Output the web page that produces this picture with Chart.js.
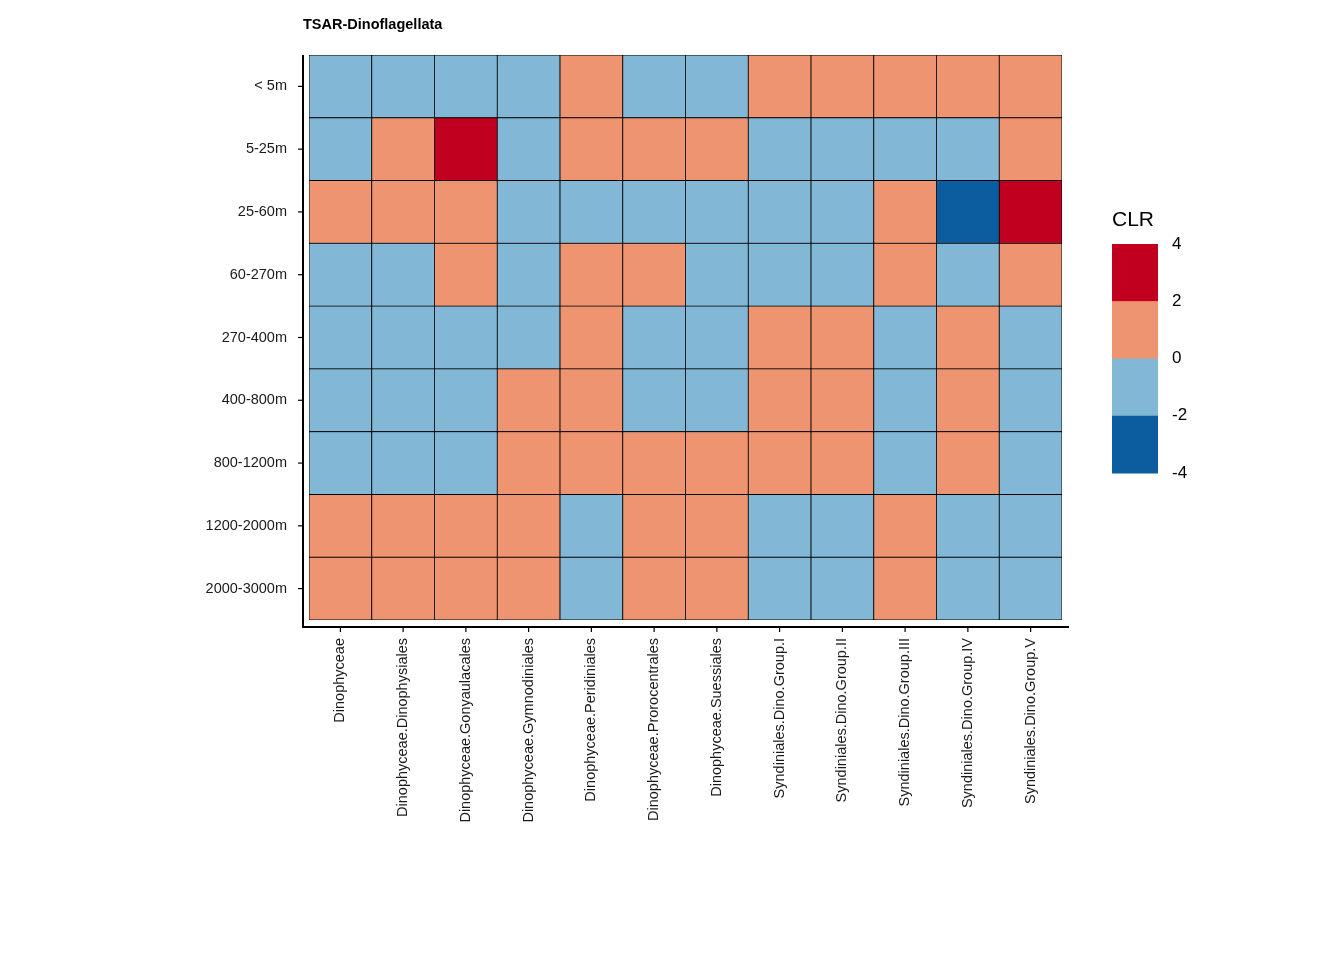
<!DOCTYPE html>
<html><head><meta charset="utf-8">
<script src="https://cdn.jsdelivr.net/npm/chart.js@4"></script>
<style>body{margin:0;background:#fff}</style>
</head><body><canvas id="c" width="1344" height="960"></canvas>
<script>
const taxa = ['Dinophyceae','Dinophyceae.Dinophysiales','Dinophyceae.Gonyaulacales','Dinophyceae.Gymnodiniales',
  'Dinophyceae.Peridiniales','Dinophyceae.Prorocentrales','Dinophyceae.Suessiales','Syndiniales.Dino.Group.I',
  'Syndiniales.Dino.Group.II','Syndiniales.Dino.Group.III','Syndiniales.Dino.Group.IV','Syndiniales.Dino.Group.V'];
// depth rows, top to bottom
const depths = ['< 5m','5-25m','25-60m','60-270m','270-400m','400-800m','800-1200m','1200-2000m','2000-3000m'];
// estimated CLR per cell (rows follow depths)
const clr = [
  [-1,-1,-1,-1, 1,-1,-1, 1, 1, 1, 1, 1],
  [-1, 1, 3,-1, 1, 1, 1,-1,-1,-1,-1, 1],
  [ 1, 1, 1,-1,-1,-1,-1,-1,-1, 1,-3, 3],
  [-1,-1, 1,-1, 1, 1,-1,-1,-1, 1,-1, 1],
  [-1,-1,-1,-1, 1,-1,-1, 1, 1,-1, 1,-1],
  [-1,-1,-1, 1, 1,-1,-1, 1, 1,-1, 1,-1],
  [-1,-1,-1, 1, 1, 1, 1, 1, 1,-1, 1,-1],
  [ 1, 1, 1, 1,-1, 1, 1,-1,-1, 1,-1,-1],
  [ 1, 1, 1, 1,-1, 1, 1,-1,-1, 1,-1,-1]
];
const legendBreaks = [4, 2, 0, -2, -4];
const binColors = ['#C0001E', '#EF9470', '#82B8D6', '#0C5DA0']; // 4..2, 2..0, 0..-2, -2..-4

function colorFor(v) {
  if (v >= 2) return binColors[0];
  if (v >= 0) return binColors[1];
  if (v >= -2) return binColors[2];
  return binColors[3];
}

const font = "'Liberation Sans', Arial, sans-serif";
const n = depths.length;
// stacked bars: dataset 0 is the bottom row
const datasets = depths.slice().reverse().map((d, i) => {
  const row = clr[n - 1 - i];
  return {
    label: d, data: taxa.map(() => 1),
    backgroundColor: row.map(colorFor),
    borderColor: '#000', borderWidth: 0.8, borderSkipped: false,
    categoryPercentage: 1, barPercentage: 1
  };
});

const decor = {
  id: 'decor',
  afterDraw(chart) {
    const {ctx, chartArea: a} = chart;
    const xs = chart.scales.x, ys = chart.scales.y;
    ctx.save();
    ctx.strokeStyle = '#000'; ctx.lineWidth = 2;
    const ax = a.left - 6, ay = a.bottom + 7;
    ctx.beginPath(); ctx.moveTo(ax, a.top); ctx.lineTo(ax, ay); ctx.lineTo(a.right + 7, ay); ctx.stroke();
    ctx.lineWidth = 1.2;
    depths.forEach((d, i) => { const y = ys.getPixelForValue(n - 1 - i + 0.5);
      ctx.beginPath(); ctx.moveTo(ax - 5, y); ctx.lineTo(ax, y); ctx.stroke(); });
    taxa.forEach((t, i) => { const x = xs.getPixelForValue(i);
      ctx.beginPath(); ctx.moveTo(x, ay); ctx.lineTo(x, ay + 5); ctx.stroke(); });
    // title
    ctx.fillStyle = '#000'; ctx.font = 'bold 14.5px ' + font; ctx.textBaseline = 'alphabetic';
    ctx.fillText('TSAR-Dinoflagellata', ax, 29);
    // colour bar legend
    const lx = 1112, ly = 244, lw = 46, lh = 229, seg = lh / 4;
    ctx.font = '21px ' + font; ctx.fillText('CLR', 1112, 226);
    binColors.forEach((c, i) => { ctx.fillStyle = c; ctx.fillRect(lx, ly + i * seg, lw, seg + 0.5); });
    ctx.fillStyle = '#000'; ctx.font = '17px ' + font; ctx.textBaseline = 'middle';
    legendBreaks.forEach((b, i) => ctx.fillText(String(b), 1172, ly + i * seg));
    ctx.restore();
  }
};

new Chart(document.getElementById('c'), {
  type: 'bar',
  data: { labels: taxa, datasets },
  options: {
    responsive: false, animation: false, devicePixelRatio: 1,
    layout: { padding: { top: 55, right: 282, left: 0, bottom: 0 } },
    plugins: { legend: { display: false }, tooltip: { enabled: false } },
    scales: {
      x: {
        stacked: true, grid: { display: false }, border: { display: false },
        afterFit: s => { s.height = 340; },
        ticks: { minRotation: 90, maxRotation: 90, autoSkip: false, padding: 10, color: '#1a1a1a', font: { family: font, size: 14.5 } }
      },
      y: {
        stacked: true, min: 0, max: n, grid: { display: false }, border: { display: false },
        afterFit: s => { s.width = 309; },
        afterBuildTicks: s => { s.ticks = depths.map((d, i) => ({ value: i + 0.5 })); },
        ticks: { padding: 14, color: '#1a1a1a', font: { family: font, size: 14.5 },
          callback: v => depths[n - 1 - Math.floor(v)] }
      }
    }
  },
  plugins: [decor]
});
</script>
</body></html>
